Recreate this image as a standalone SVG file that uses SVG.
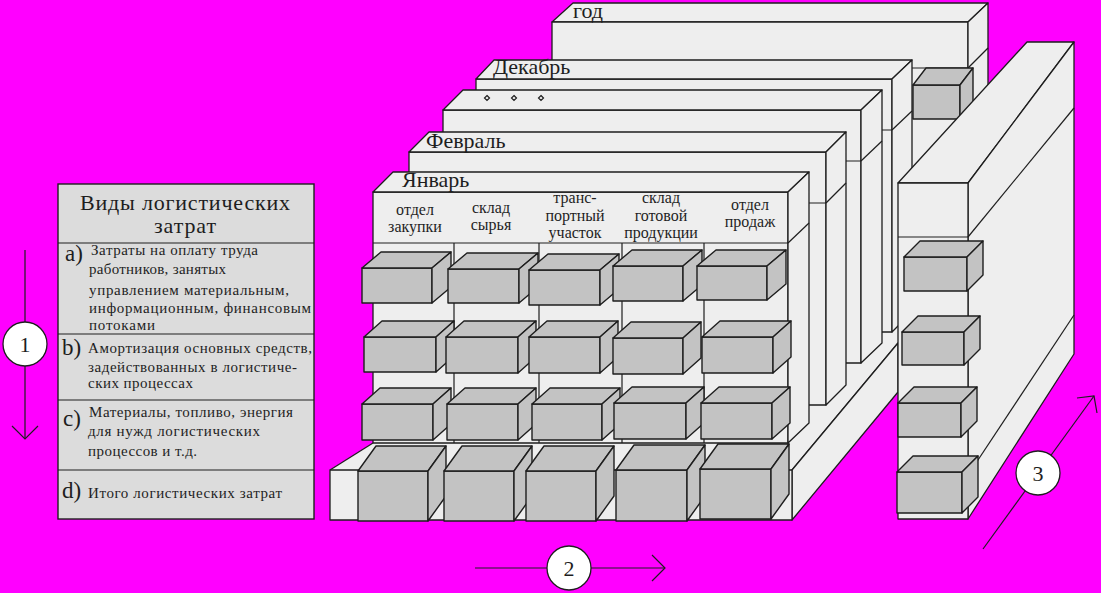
<svg xmlns="http://www.w3.org/2000/svg" width="1101" height="593" viewBox="0 0 1101 593">
<style>
.f{fill:#EEEEEE;stroke:#1E1E1E;stroke-width:1.3;stroke-linejoin:round}
.nf{fill:#EEEEEE;stroke:none}
.b{fill:#C3C3C3;stroke:#1E1E1E;stroke-width:1.4;stroke-linejoin:round}
.ln{fill:none;stroke:#1E1E1E;stroke-width:1.2}
.tb{fill:#DCDCDC;stroke:#1E1E1E;stroke-width:1.4}
.t{font-family:"Liberation Serif","Times New Roman",serif;fill:#1E1E1E}
.lab{font-size:22px}
.hd{font-size:16px;text-anchor:middle}
.tx{font-size:15px}
.ci{fill:#FFFFFF;stroke:#1E1E1E;stroke-width:1.3}
.num{font-size:22px;text-anchor:middle}
</style>
<rect x="0" y="0" width="1101" height="593" fill="#FF00FF"/>

<!-- floor -->
<g id="floor">
<polygon class="nf" points="330,470 373,443 560,220 1000,220 898,343 792,470"/>
<line class="ln" x1="330" y1="470" x2="373" y2="443"/>
<line class="ln" x1="792" y1="470" x2="898" y2="343"/>
<polygon class="f" points="792,470 898,343 898,392 792,520"/>
<rect class="f" x="330" y="470" width="462" height="50"/>
</g>

<!-- year slab -->
<g id="slab-god">
<polygon class="f" points="573,3 988,3 968,22 552,22"/>
<rect class="f" x="552" y="22" width="416" height="270"/>
<polygon class="f" points="968,22 988,3 988,272 968,292"/>
<line class="ln" x1="552" y1="68" x2="968" y2="68"/>
<line class="ln" x1="968" y1="68" x2="988" y2="48"/>
<text class="t lab" x="573" y="18">год</text>
</g>
<g id="box-god">
<rect class="b" x="913" y="85" width="47" height="34"/>
<polygon class="b" points="913,85 926,68 973,68 960,85"/>
<polygon class="b" points="960,85 973,68 973,102 960,119"/>
</g>

<!-- December slab -->
<g id="slab-dec">
<rect class="f" x="476" y="79" width="416" height="253"/>
<polygon class="f" points="476,79 494,60 912,60 892,79"/>
<polygon class="f" points="892,79 912,60 912,312 892,332"/>
<line class="ln" x1="476" y1="130" x2="892" y2="130"/>
<line class="ln" x1="892" y1="130" x2="912" y2="111"/>
<text class="t lab" x="493" y="74">Декабрь</text>
</g>

<!-- dots slab -->
<g id="slab-dots">
<rect class="f" x="443" y="110" width="418" height="253"/>
<polygon class="f" points="443,110 463,90 882,90 861,110"/>
<polygon class="f" points="861,110 882,90 882,343 861,363"/>
<line class="ln" x1="443" y1="161" x2="861" y2="161"/>
<line class="ln" x1="861" y1="161" x2="882" y2="141"/>
<polygon class="ln" points="487,95.5 489.5,98 487,100.5 484.5,98"/>
<polygon class="ln" points="514,95.5 516.5,98 514,100.5 511.5,98"/>
<polygon class="ln" points="541,95.5 543.5,98 541,100.5 538.5,98"/>
</g>

<!-- February slab -->
<g id="slab-feb">
<rect class="f" x="409" y="152" width="417" height="253"/>
<polygon class="f" points="409,152 429,132 846,132 826,152"/>
<polygon class="f" points="826,152 846,132 846,385 826,405"/>
<line class="ln" x1="409" y1="203" x2="826" y2="203"/>
<line class="ln" x1="826" y1="203" x2="846" y2="183"/>
<text class="t lab" x="426" y="148">Февраль</text>
</g>

<!-- January slab -->
<g id="slab-jan">
<rect class="f" x="373" y="192" width="415" height="251"/>
<polygon class="f" points="373,192 393,172 809,172 788,192"/>
<polygon class="f" points="788,192 809,172 809,423 788,443"/>
<line class="ln" x1="373" y1="243" x2="788" y2="243"/>
<line class="ln" x1="788" y1="243" x2="809" y2="223"/>
<line class="ln" x1="454" y1="243" x2="454" y2="443"/>
<line class="ln" x1="539" y1="243" x2="539" y2="443"/>
<line class="ln" x1="622" y1="243" x2="622" y2="443"/>
<line class="ln" x1="704" y1="243" x2="704" y2="443"/>
<text class="t lab" x="402" y="187">Январь</text>
<text class="t hd" x="415" y="215">отдел</text>
<text class="t hd" x="415" y="232">закупки</text>
<text class="t hd" x="491" y="213">склад</text>
<text class="t hd" x="491" y="230">сырья</text>
<text class="t hd" x="575" y="203">транс-</text>
<text class="t hd" x="575" y="221">портный</text>
<text class="t hd" x="575" y="238">участок</text>
<text class="t hd" x="661" y="203">склад</text>
<text class="t hd" x="661" y="221">готовой</text>
<text class="t hd" x="661" y="238">продукции</text>
<text class="t hd" x="750" y="210">отдел</text>
<text class="t hd" x="750" y="227">продаж</text>
</g>

<!-- grid boxes -->
<g id="boxes-a">
<rect class="b" x="362" y="268" width="70" height="35"/><polygon class="b" points="362,268 381,252 451,252 432,268"/><polygon class="b" points="432,268 451,252 451,287 432,303"/>
<rect class="b" x="448" y="269" width="71" height="34"/><polygon class="b" points="448,269 467,253 538,253 519,269"/><polygon class="b" points="519,269 538,253 538,287 519,303"/>
<rect class="b" x="529" y="270" width="71" height="35"/><polygon class="b" points="529,270 548,254 619,254 600,270"/><polygon class="b" points="600,270 619,254 619,289 600,305"/>
<rect class="b" x="613" y="266" width="70" height="35"/><polygon class="b" points="613,266 632,250 702,250 683,266"/><polygon class="b" points="683,266 702,250 702,285 683,301"/>
<rect class="b" x="697" y="266" width="70" height="34"/><polygon class="b" points="697,266 716,250 786,250 767,266"/><polygon class="b" points="767,266 786,250 786,284 767,300"/>
</g>
<g id="boxes-b">
<rect class="b" x="364" y="337" width="72" height="35"/><polygon class="b" points="364,337 382,321 454,321 436,337"/><polygon class="b" points="436,337 454,321 454,356 436,372"/>
<rect class="b" x="446" y="337" width="72" height="36"/><polygon class="b" points="446,337 464,321 536,321 518,337"/><polygon class="b" points="518,337 536,321 536,357 518,373"/>
<rect class="b" x="529" y="337" width="71" height="36"/><polygon class="b" points="529,337 547,321 618,321 600,337"/><polygon class="b" points="600,337 618,321 618,357 600,373"/>
<rect class="b" x="613" y="338" width="70" height="36"/><polygon class="b" points="613,338 631,322 701,322 683,338"/><polygon class="b" points="683,338 701,322 701,358 683,374"/>
<rect class="b" x="702" y="337" width="71" height="36"/><polygon class="b" points="702,337 720,321 791,321 773,337"/><polygon class="b" points="773,337 791,321 791,357 773,373"/>
</g>
<g id="boxes-c">
<rect class="b" x="362" y="404" width="71" height="36"/><polygon class="b" points="362,404 380,388 451,388 433,404"/><polygon class="b" points="433,404 451,388 451,424 433,440"/>
<rect class="b" x="447" y="404" width="71" height="36"/><polygon class="b" points="447,404 465,388 536,388 518,404"/><polygon class="b" points="518,404 536,388 536,424 518,440"/>
<rect class="b" x="532" y="404" width="70" height="36"/><polygon class="b" points="532,404 550,388 620,388 602,404"/><polygon class="b" points="602,404 620,388 620,424 602,440"/>
<rect class="b" x="614" y="403" width="72" height="36"/><polygon class="b" points="614,403 632,387 704,387 686,403"/><polygon class="b" points="686,403 704,387 704,423 686,439"/>
<rect class="b" x="701" y="403" width="71" height="36"/><polygon class="b" points="701,403 719,387 790,387 772,403"/><polygon class="b" points="772,403 790,387 790,423 772,439"/>
</g>
<g id="boxes-d">
<rect class="b" x="358" y="471" width="70" height="50"/><polygon class="b" points="358,471 376,446 446,446 428,471"/><polygon class="b" points="428,471 446,446 446,496 428,521"/>
<rect class="b" x="444" y="471" width="70" height="50"/><polygon class="b" points="444,471 462,446 532,446 514,471"/><polygon class="b" points="514,471 532,446 532,496 514,521"/>
<rect class="b" x="526" y="471" width="70" height="50"/><polygon class="b" points="526,471 544,446 614,446 596,471"/><polygon class="b" points="596,471 614,446 614,496 596,521"/>
<rect class="b" x="616" y="470" width="71" height="51"/><polygon class="b" points="616,470 634,445 705,445 687,470"/><polygon class="b" points="687,470 705,445 705,496 687,521"/>
<rect class="b" x="700" y="469" width="71" height="50"/><polygon class="b" points="700,469 718,444 789,444 771,469"/><polygon class="b" points="771,469 789,444 789,494 771,519"/>
</g>

<!-- right panel -->
<g id="right-panel">
<polygon class="f" points="898,183 1027,42 1074,42 968,183"/>
<polygon class="f" points="968,183 1074,42 1074,354 968,519"/>
<rect class="f" x="898" y="183" width="70" height="336"/>
<line class="ln" x1="898" y1="237" x2="968" y2="237"/>
<line class="ln" x1="968" y1="237" x2="1074" y2="108"/>
<line class="ln" x1="976" y1="463" x2="1074" y2="315"/>
<rect class="b" x="904" y="257" width="63" height="34"/><polygon class="b" points="904,257 920,241 983,241 967,257"/><polygon class="b" points="967,257 983,241 983,275 967,291"/>
<rect class="b" x="902" y="332" width="62" height="33"/><polygon class="b" points="902,332 918,316 980,316 964,332"/><polygon class="b" points="964,332 980,316 980,349 964,365"/>
<rect class="b" x="898" y="403" width="63" height="34"/><polygon class="b" points="898,403 914,387 977,387 961,403"/><polygon class="b" points="961,403 977,387 977,421 961,437"/>
<rect class="b" x="897" y="472" width="65" height="41"/><polygon class="b" points="897,472 913,456 978,456 962,472"/><polygon class="b" points="962,472 978,456 978,497 962,513"/>
</g>

<!-- table -->
<g id="table">
<rect class="tb" x="58" y="184" width="256" height="335"/>
<line class="ln" x1="58" y1="243" x2="314" y2="243"/>
<line class="ln" x1="58" y1="334" x2="314" y2="334"/>
<line class="ln" x1="58" y1="400" x2="314" y2="400"/>
<line class="ln" x1="58" y1="470" x2="314" y2="470"/>
<text class="t" font-size="22" x="80" y="210" textLength="210" lengthAdjust="spacing">Виды логистических</text>
<text class="t" font-size="22" x="154" y="233" textLength="62" lengthAdjust="spacing">затрат</text>
<text class="t" font-size="23" x="65" y="261">a)</text>
<text class="t tx" x="91" y="255" textLength="167" lengthAdjust="spacing">Затраты на оплату труда</text>
<text class="t tx" x="89" y="274" textLength="137" lengthAdjust="spacing">работников, занятых</text>
<text class="t tx" x="89" y="295" textLength="200" lengthAdjust="spacing">управлением материальным,</text>
<text class="t tx" x="89" y="313" textLength="222" lengthAdjust="spacing">информационным, финансовым</text>
<text class="t tx" x="89" y="330" textLength="66" lengthAdjust="spacing">потоками</text>
<text class="t" font-size="23" x="62" y="355">b)</text>
<text class="t tx" x="88" y="353" textLength="224" lengthAdjust="spacing">Амортизация основных средств,</text>
<text class="t tx" x="88" y="372" textLength="209" lengthAdjust="spacing">задействованных в логистиче-</text>
<text class="t tx" x="88" y="388" textLength="105" lengthAdjust="spacing">ских процессах</text>
<text class="t" font-size="23" x="63" y="426">c)</text>
<text class="t tx" x="89" y="417" textLength="204" lengthAdjust="spacing">Материалы, топливо, энергия</text>
<text class="t tx" x="88" y="436" textLength="172" lengthAdjust="spacing">для нужд логистических</text>
<text class="t tx" x="88" y="456" textLength="109" lengthAdjust="spacing">процессов и т.д.</text>
<text class="t" font-size="23" x="62" y="498">d)</text>
<text class="t tx" x="88" y="498" textLength="194" lengthAdjust="spacing">Итого логистических затрат</text>
</g>

<!-- connectors -->
<g id="connectors">
<line class="ln" x1="25" y1="250" x2="25" y2="439"/>
<polyline class="ln" points="12,426 25,439 38,426"/>
<line class="ln" x1="475" y1="568" x2="665" y2="568"/>
<polyline class="ln" points="652,555 665,568 652,581"/>
<line class="ln" x1="983" y1="549" x2="1094" y2="396"/>
<polyline class="ln" points="1077,398 1094,396 1097,413"/>
</g>

<g id="marker-1">
<circle class="ci" cx="25" cy="344" r="22"/>
<text class="t num" x="25" y="352">1</text>
</g>
<g id="marker-2">
<circle class="ci" cx="569" cy="568" r="22"/>
<text class="t num" x="569" y="576">2</text>
</g>
<g id="marker-3">
<circle class="ci" cx="1038" cy="473" r="22"/>
<text class="t num" x="1038" y="481">3</text>
</g>
</svg>
